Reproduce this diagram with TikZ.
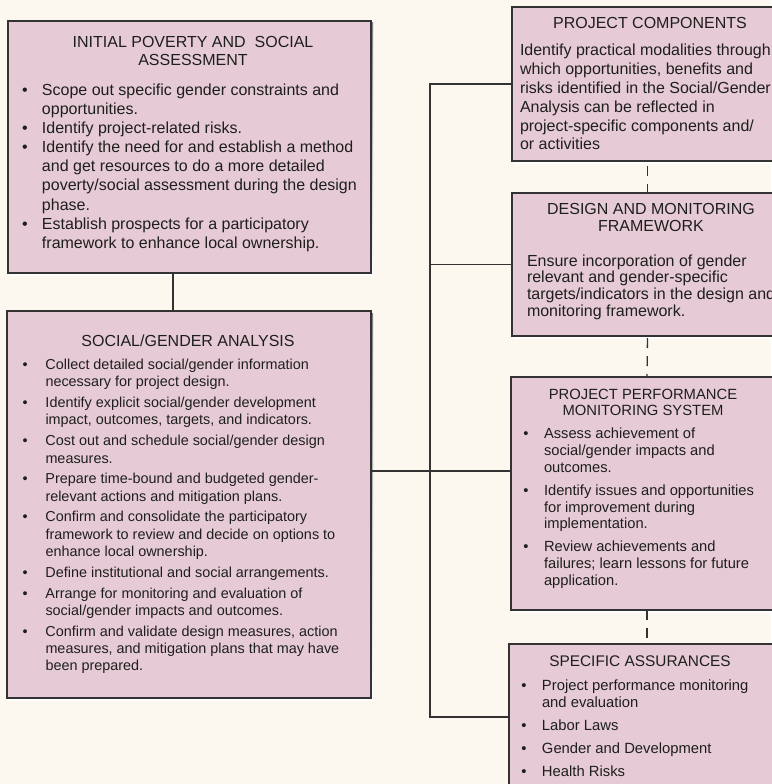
\documentclass[tikz,border=0pt]{standalone}
\usepackage{fontspec}
\setmainfont{Liberation Sans}
\definecolor{bg}{HTML}{FCF8F0}
\definecolor{boxfill}{HTML}{E6CBD6}
\definecolor{edge}{HTML}{333333}
\definecolor{shade}{HTML}{A8A4A0}
\definecolor{txt}{HTML}{1E1E1E}
\newlength{\bulw}
\newcommand{\myB}[1]{\hbox{\hbox to\bulw{\textbullet\hss}#1}}
\newcommand{\myC}[1]{\hbox{\hskip\bulw #1}}
\newcommand{\myL}[1]{\hbox{#1}}
\newcommand{\myT}[1]{\hbox to 0pt{\hss#1\hss}}
\newcommand{\myStack}[3]{\vtop{\fontsize{#1}{#2}\selectfont\baselineskip=#2\relax\lineskiplimit=-100pt\relax #3}}
\begin{document}
\begin{tikzpicture}[x=1pt,y=-1pt,
  box/.style={draw=edge, line width=1.7pt, fill=boxfill, anchor=north west, inner sep=0pt, outer sep=0pt},
  conn/.style={draw=edge, line width=1.3pt},
  dconn/.style={conn, dash pattern=on 10pt off 8pt},
  body/.style={inner sep=0pt, outer sep=0pt, anchor=base west, text=txt},
  ttl/.style={inner sep=0pt, outer sep=0pt, anchor=base, text=txt}]
\useasboundingbox (0,0) rectangle (771,784);
\fill[bg] (0,0) rectangle (771,784);
% faint shadows under the boxes
\fill[shade] (10,23) rectangle (373,275.5);
\fill[shade] (9,313) rectangle (373,700.5);
\fill[shade] (514,9) rectangle (785,163.5);
\fill[shade] (514,195) rectangle (785,338.5);
\fill[shade] (513,379) rectangle (785,612.5);
% boxes
\node[box, minimum width=363pt, minimum height=252pt] (b1) at (8,21) {};
\node[box, minimum width=364pt, minimum height=387pt] (b2) at (7,311) {};
\node[box, minimum width=271pt, minimum height=154pt] (pc) at (512,7) {};
\node[box, minimum width=271pt, minimum height=143pt] (dmf) at (512,193) {};
\node[box, minimum width=272pt, minimum height=233pt] (ppms) at (511,377) {};
\node[box, minimum width=276pt, minimum height=170pt] (sa) at (509,644) {};
% connectors
\coordinate (c12) at (173,0);
\coordinate (sp) at (430,0);
\coordinate (mj) at (0,471);
\coordinate (saj) at (430,717);
\draw[conn] (b1.south -| c12) -- (b2.north -| c12);
\draw[conn] (pc.west) -- (pc.west -| sp) -- (saj) -- (saj -| sa.west);
\draw[conn] (dmf.west) -- (dmf.west -| sp);
\draw[conn] (b2.east |- mj) -- (ppms.west |- mj);
\draw[dconn, dash phase=13pt] (pc.south) -- (dmf.north);
\draw[dconn, dash phase=16pt] (dmf.south) -- (ppms.north);
\draw[dconn] (ppms.south) -- (sa.north);
% box 1
\node[ttl] (t1) at (193,47.5) {\myStack{16pt}{18pt}{\myT{INITIAL POVERTY AND~ SOCIAL}\myT{ASSESSMENT}}};
\node[body] (x1) at (22,95) {\setlength{\bulw}{20pt}\myStack{16pt}{19.2pt}{%
\myB{Scope out specific gender constraints and}
\myC{opportunities.}
\myB{Identify project-related risks.}
\myB{Identify the need for and establish a method}
\myC{and get resources to do a more detailed}
\myC{poverty/social assessment during the design}
\myC{phase.}
\myB{Establish prospects for a participatory}
\myC{framework to enhance local ownership.}}};
% box 2
\node[ttl] (t2) at (188,346) {\myStack{16pt}{18pt}{\myT{SOCIAL/GENDER ANALYSIS}}};
\node[body] (x2) at (22.5,369.5) {\setlength{\bulw}{23pt}\myStack{14.4pt}{17.3pt}{%
\myB{Collect detailed social/gender information}
\myC{necessary for project design.}
\vskip3.5pt
\myB{Identify explicit social/gender development}
\myC{impact, outcomes, targets, and indicators.}
\vskip3.5pt
\myB{Cost out and schedule social/gender design}
\myC{measures.}
\vskip3.5pt
\myB{Prepare time-bound and budgeted gender-}
\myC{relevant actions and mitigation plans.}
\vskip3.5pt
\myB{Confirm and consolidate the participatory}
\myC{framework to review and decide on options to}
\myC{enhance local ownership.}
\vskip3.5pt
\myB{Define institutional and social arrangements.}
\vskip3.5pt
\myB{Arrange for monitoring and evaluation of}
\myC{social/gender impacts and outcomes.}
\vskip3.5pt
\myB{Confirm and validate design measures, action}
\myC{measures, and mitigation plans that may have}
\myC{been prepared.}}};
% project components
\node[ttl] (t3) at (650,29) {\myStack{16pt}{18pt}{\myT{PROJECT COMPONENTS}}};
\node[body] (x3) at (520,56) {\myStack{16pt}{18.8pt}{%
\myL{Identify practical modalities through}
\myL{which opportunities, benefits and}
\myL{risks identified in the Social/Gender}
\myL{Analysis can be reflected in}
\myL{project-specific components and/}
\myL{or activities}}};
% design and monitoring framework
\node[ttl] (t4) at (651,214.5) {\myStack{16pt}{16.5pt}{\myT{DESIGN AND MONITORING}\myT{FRAMEWORK}}};
\node[body] (x4) at (527,266) {\myStack{16pt}{16.8pt}{%
\myL{Ensure incorporation of gender}
\myL{relevant and gender-specific}
\myL{targets/indicators in the design and}
\myL{monitoring framework.}}};
% project performance monitoring system
\node[ttl] (t5) at (643,399) {\myStack{14.8pt}{16.5pt}{\myT{PROJECT PERFORMANCE}\myT{MONITORING SYSTEM}}};
\node[body] (x5) at (523.4,438.5) {\setlength{\bulw}{20.6pt}\myStack{14.7pt}{16.8pt}{%
\myB{Assess achievement of}
\myC{social/gender impacts and}
\myC{outcomes.}
\vskip6.3pt
\myB{Identify issues and opportunities}
\myC{for improvement during}
\myC{implementation.}
\vskip6.3pt
\myB{Review achievements and}
\myC{failures; learn lessons for future}
\myC{application.}}};
% specific assurances
\node[ttl] (t6) at (640,666) {\myStack{15.4pt}{17pt}{\myT{SPECIFIC ASSURANCES}}};
\node[body] (x6) at (521.4,690) {\setlength{\bulw}{20.6pt}\myStack{14.8pt}{17pt}{%
\myB{Project performance monitoring}
\myC{and evaluation}
\vskip6pt
\myB{Labor Laws}
\vskip6pt
\myB{Gender and Development}
\vskip6pt
\myB{Health Risks}}};
\end{tikzpicture}
\end{document}
